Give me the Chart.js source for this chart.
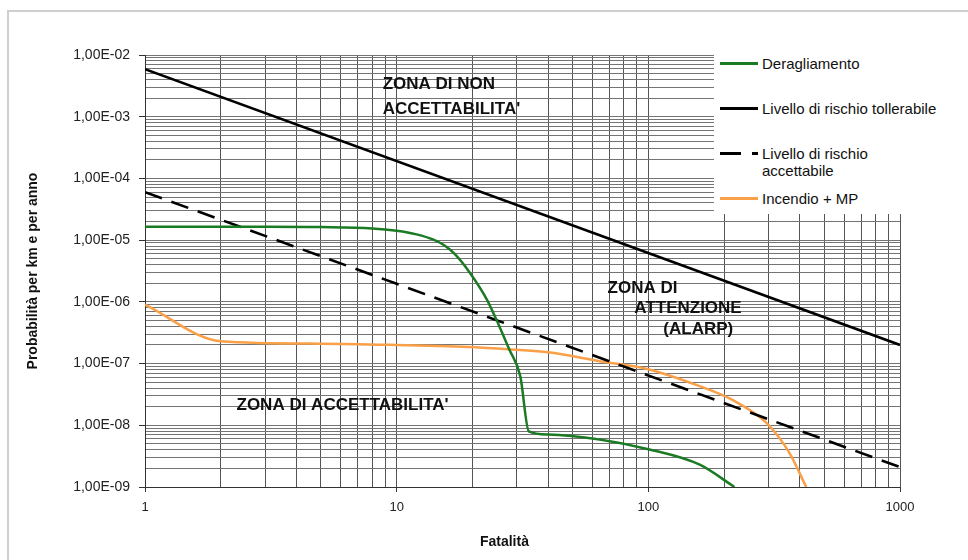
<!DOCTYPE html>
<html lang="it">
<head>
<meta charset="utf-8">
<title>Curva F-N</title>
<script src="https://cdn.jsdelivr.net/npm/chart.js@4.4.1/dist/chart.umd.min.js"></script>
<style>
    html, body { margin: 0; padding: 0; background: #fff; }
    body {
        width: 968px; height: 560px; position: relative; overflow: hidden;
        font-family: "Liberation Sans", Arial, sans-serif;
    }
    .frame {
        position: absolute; left: 7px; top: 10px; width: 1000px; height: 600px;
        border-left: 2px solid #cfcfcf; border-top: 2px solid #cfcfcf;
    }
    #fnChart { position: absolute; left: 0; top: 0; }
    .legend {
        position: absolute; left: 714px; top: 47px; width: 254px; height: 167px;
        background: #fff;
    }
    .legend-item { position: absolute; left: 6px; display: flex; align-items: flex-start; }
    .legend-line { width: 38px; height: 3px; margin-top: 7px; margin-right: 4px; }
    .legend-text { font-size: 15px; line-height: 17px; max-width: 180px; color: #111; }
</style>
</head>
<body>
<div class="frame"></div>
<canvas id="fnChart" width="968" height="560"></canvas>
<div class="legend" id="fnLegend"></div>

<script>
// Fatalità (N) / probabilità per km e per anno
const deragliamentoN = [1, 3, 5, 8, 10, 12, 14, 15.5, 17, 19.5, 22.8, 25.6, 28, 31, 33.5, 40, 64, 100, 160, 220];
const deragliamentoP = [1.65e-5, 1.65e-5, 1.63e-5, 1.55e-5, 1.42e-5, 1.24e-5, 1.02e-5, 8.2e-6, 6.0e-6, 3.0e-6, 1.1e-6,
    4.0e-7, 1.7e-7, 6.2e-8, 8.0e-9, 7.1e-9, 5.9e-9, 4.1e-9, 2.3e-9, 1.0e-9];

const tollerabileN = [1, 1000];
const tollerabileP = [5.9e-3, 2.0e-7];

const accettabileN = [1, 1000];
const accettabileP = [6.0e-5, 2.1e-9];

const incendioN = [1, 2, 5, 10, 16, 25, 40, 64, 100, 160, 215, 294, 363, 424];
const incendioP = [9.0e-7, 2.3e-7, 2.1e-7, 2.0e-7, 1.9e-7, 1.75e-7, 1.52e-7, 1.09e-7, 8.1e-8, 4.3e-8,
    2.6e-8, 1.1e-8, 3.6e-9, 1.0e-9];

const seriesNames = ['Deragliamento', 'Livello di rischio tollerabile', 'Livello di rischio accettabile', 'Incendio + MP'];

// scritte delle zone, in coordinate del grafico
const zoneLabels = [
    { text: 'ZONA DI NON', n: 8.8, p: 3.3e-3 },
    { text: "ACCETTABILITA'", n: 8.8, p: 1.32e-3 },
    { text: 'ZONA DI', n: 68.9, p: 1.67e-6 },
    { text: 'ATTENZIONE', n: 88, p: 7.85e-7 },
    { text: '(ALARP)', n: 114.7, p: 3.58e-7 },
    { text: "ZONA DI ACCETTABILITA'", n: 2.31, p: 2.12e-8 }
];

const FONT = '"Liberation Sans", Arial, sans-serif';

function toPoints(xs, ys) {
    return xs.map((x, i) => ({ x: x, y: ys[i] }));
}

function isDecade(v) {
    const l = Math.log10(v);
    return Math.abs(l - Math.round(l)) < 1e-6;
}

function keepIntegerMantissa(scale) {
    scale.ticks = scale.ticks.filter(t => {
        const m = t.value / Math.pow(10, Math.floor(Math.log10(t.value) + 1e-9));
        return Math.abs(m - Math.round(m)) < 1e-6;
    });
}

function formatExp(v) {
    const e = Math.round(Math.log10(v));
    return '1,00E' + (e < 0 ? '-' : '+') + String(Math.abs(e)).padStart(2, '0');
}

const zoneTextPlugin = {
    id: 'zoneText',
    afterDraw(chart) {
        const ctx = chart.ctx;
        const xs = chart.scales.x, ys = chart.scales.y;
        ctx.save();
        ctx.fillStyle = '#111';
        ctx.font = 'bold 17px ' + FONT;
        ctx.textAlign = 'left';
        ctx.textBaseline = 'middle';
        zoneLabels.forEach(z => {
            ctx.fillText(z.text, xs.getPixelForValue(z.n), ys.getPixelForValue(z.p));
        });
        // titolo asse x
        ctx.font = 'bold 14px ' + FONT;
        ctx.textAlign = 'center';
        ctx.fillText('Fatalità', xs.getPixelForValue(26.8), chart.height - 18);
        ctx.restore();
    }
};

const chart = new Chart(document.getElementById('fnChart'), {
    type: 'line',
    data: {
        datasets: [
            {
                label: seriesNames[0],
                data: toPoints(deragliamentoN, deragliamentoP),
                borderColor: '#1b7a24',
                borderWidth: 2.5,
                cubicInterpolationMode: 'monotone'
            },
            {
                label: seriesNames[1],
                data: toPoints(tollerabileN, tollerabileP),
                borderColor: '#000',
                borderWidth: 2.6
            },
            {
                label: seriesNames[2],
                data: toPoints(accettabileN, accettabileP),
                borderColor: '#000',
                borderWidth: 2.6,
                borderDash: [18, 10]
            },
            {
                label: seriesNames[3],
                data: toPoints(incendioN, incendioP),
                borderColor: '#f9a048',
                borderWidth: 2.5,
                cubicInterpolationMode: 'monotone'
            }
        ]
    },
    options: {
        responsive: false,
        animation: false,
        layout: { padding: { top: 55, right: 68, left: 0, bottom: 0 } },
        elements: { point: { radius: 0 }, line: { fill: false } },
        plugins: {
            legend: { display: false },
            tooltip: { enabled: false }
        },
        scales: {
            x: {
                type: 'logarithmic',
                min: 1,
                max: 1000,
                afterBuildTicks: keepIntegerMantissa,
                afterFit(scale) { scale.height = 73; },
                border: { color: '#333', width: 1 },
                grid: {
                    color: '#555',
                    lineWidth: 1,
                    tickLength: 5,
                    tickColor: ctx => (ctx.tick && isDecade(ctx.tick.value)) ? '#333' : 'rgba(0,0,0,0)'
                },
                ticks: {
                    autoSkip: false,
                    maxRotation: 0,
                    padding: 8,
                    color: '#222',
                    font: { family: FONT, size: 13 },
                    callback: v => isDecade(v) ? String(Math.round(v)) : ''
                }
            },
            y: {
                type: 'logarithmic',
                min: 1e-9,
                max: 1e-2,
                afterBuildTicks: keepIntegerMantissa,
                afterFit(scale) { scale.width = 145; },
                border: { color: '#333', width: 1 },
                grid: {
                    color: '#747474',
                    lineWidth: 1,
                    tickLength: 6,
                    tickColor: ctx => (ctx.tick && isDecade(ctx.tick.value)) ? '#333' : 'rgba(0,0,0,0)'
                },
                ticks: {
                    autoSkip: false,
                    padding: 9,
                    color: '#222',
                    font: { family: FONT, size: 14 },
                    callback: v => isDecade(v) ? formatExp(v) : ''
                },
                title: {
                    display: true,
                    text: 'Probabilità per km e per anno',
                    color: '#111',
                    font: { family: FONT, size: 14, weight: 'bold' },
                    padding: { top: 25, bottom: 0 }
                }
            }
        }
    },
    plugins: [zoneTextPlugin]
});

// legenda a destra, costruita dai dataset
(function buildLegend() {
    const box = document.getElementById('fnLegend');
    chart.data.datasets.forEach((ds, i) => {
        const item = document.createElement('div');
        item.className = 'legend-item';
        item.style.top = (7.5 + i * 45.3) + 'px';
        const line = document.createElement('div');
        line.className = 'legend-line';
        if (ds.borderDash) {
            line.style.background = 'linear-gradient(to right, ' + ds.borderColor + ' 0 21px, transparent 21px 32px, ' +
                ds.borderColor + ' 32px 38px)';
        } else {
            line.style.background = ds.borderColor;
        }
        const text = document.createElement('div');
        text.className = 'legend-text';
        text.textContent = ds.label;
        item.appendChild(line);
        item.appendChild(text);
        box.appendChild(item);
    });
})();
</script>
</body>
</html>
